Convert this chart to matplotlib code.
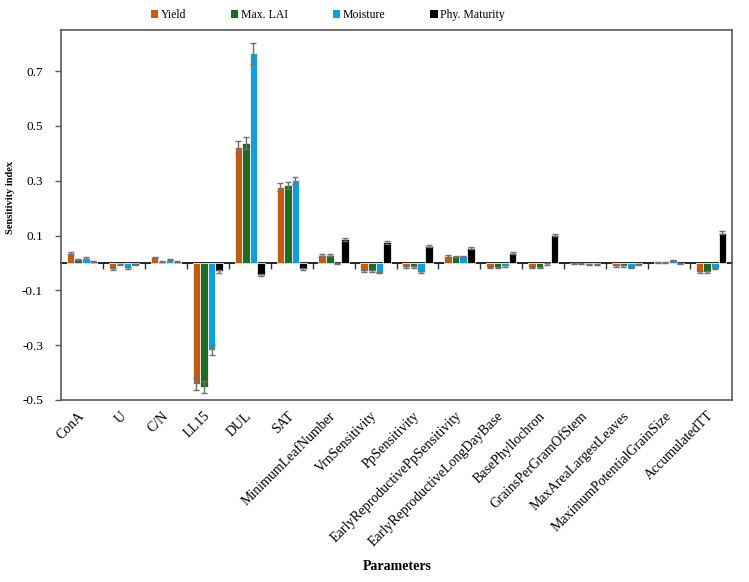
import numpy as np
import matplotlib
matplotlib.use("Agg")
import matplotlib.pyplot as plt
from matplotlib.patches import Patch

categories = ["ConA", "U", "C/N", "LL15", "DUL", "SAT", "MinimumLeafNumber",
              "VrnSensitivity", "PpSensitivity", "EarlyReproductivePpSensitivity",
              "EarlyReproductiveLongDayBase", "BasePhyllochron", "GrainsPerGramOfStem",
              "MaxAreaLargestLeaves", "MaximumPotentialGrainSize", "AccumulatedTT"]
series_names = ["Yield", "Max. LAI", "Moisture", "Phy. Maturity"]

yield_vals = [0.037, -0.021, 0.020, -0.440, 0.423, 0.276, 0.029, -0.029, -0.015, 0.026,
              -0.016, -0.016, -0.002, -0.010, 0.003, -0.032]
lai_vals = [0.013, -0.005, 0.005, -0.452, 0.437, 0.283, 0.029, -0.029, -0.015, 0.024,
            -0.016, -0.016, -0.002, -0.012, 0.003, -0.032]
moist_vals = [0.017, -0.018, 0.012, -0.318, 0.765, 0.301, -0.003, -0.035, -0.034, 0.024,
              -0.010, -0.004, -0.004, -0.017, 0.010, -0.020]
pm_vals = [0.006, -0.006, 0.004, -0.031, -0.044, -0.022, 0.086, 0.076, 0.061, 0.055,
           0.037, 0.102, -0.004, -0.006, -0.003, 0.111]

yield_err = [0.004, 0.003, 0.003, 0.022, 0.022, 0.014, 0.003, 0.003, 0.003, 0.003,
             0.003, 0.003, 0.002, 0.003, 0.002, 0.003]
lai_err = [0.003, 0.003, 0.003, 0.023, 0.023, 0.014, 0.003, 0.003, 0.003, 0.003,
           0.003, 0.003, 0.002, 0.003, 0.002, 0.003]
moist_err = [0.003, 0.003, 0.003, 0.018, 0.038, 0.013, 0.002, 0.003, 0.003, 0.003,
             0.003, 0.003, 0.002, 0.003, 0.002, 0.003]
pm_err = [0.002, 0.002, 0.002, 0.004, 0.004, 0.003, 0.005, 0.005, 0.003, 0.005,
          0.003, 0.005, 0.002, 0.002, 0.002, 0.005]

colors = ["#C55A11", "#1E6B24", "#109FDA", "#000000"]
yticks = [-0.5, -0.3, -0.1, 0.1, 0.3, 0.5, 0.7]

plt.rcParams['font.family'] = ['Liberation Serif', 'DejaVu Serif']

fig = plt.figure(figsize=(7.49, 5.82), dpi=100)
ax = fig.add_axes([61/749, 1 - 400/582, (732-61)/749, (400-30)/582])

x = np.arange(len(categories))
w = 0.18
all_vals = [yield_vals, lai_vals, moist_vals, pm_vals]
all_errs = [yield_err, lai_err, moist_err, pm_err]
for i, (vals, errs, c) in enumerate(zip(all_vals, all_errs, colors)):
    ax.bar(x + (i - 1.5) * w, vals, w, color=c, edgecolor="#f4f4f4", linewidth=0.6,
           yerr=errs, error_kw=dict(ecolor="#707070", elinewidth=1.0, capsize=2.5, capthick=1.0),
           zorder=2)

ax.set_xlim(-0.5, len(categories) - 0.5)
ax.set_ylim(-0.5, 0.85)
ax.set_yticks(yticks)
ax.set_yticklabels([f"{v:.1f}" for v in yticks])
ax.set_xticks(x)
ax.set_xticklabels(categories, rotation=45, ha="right", va="center",
                   rotation_mode="anchor", fontsize=10)
ax.tick_params(axis="x", length=0, pad=10)
ax.tick_params(axis="y", direction="out", length=4, width=1, color="#595959",
               labelsize=9.5, pad=9)

for s in ax.spines.values():
    s.set_color("#595959")
    s.set_linewidth(1.2)

# zero axis line with category-boundary ticks
frac0 = (0 - (-0.5)) / (0.85 - (-0.5))
sec = ax.secondary_xaxis(frac0)
sec.spines['bottom'].set_color("#000000")
sec.spines['bottom'].set_linewidth(1.2)
sec.set_xticks(np.arange(0.5, len(categories) - 1, 1.0))
sec.set_xticklabels([])
sec.tick_params(axis="x", direction="out", length=4, width=1, color="#333333")

ax.set_ylabel("Sensitivity index", fontweight="bold", fontsize=7.5)
ax.yaxis.set_label_coords(15/749, 1 - 197/582, transform=fig.transFigure)
ax.set_xlabel("Parameters", fontweight="bold", fontsize=10)
ax.xaxis.set_label_coords(397/749, 1 - 567/582, transform=fig.transFigure)
ax.xaxis.label.set_verticalalignment("center")
ax.yaxis.label.set_horizontalalignment("center")

handles = [Patch(facecolor=c, edgecolor="none") for c in colors]
fig.legend(handles, series_names, loc="center", bbox_to_anchor=(328/749, 1 - 15/582),
           ncol=4, frameon=False, fontsize=8.5, handlelength=0.6, handleheight=0.6,
           handletextpad=0.25, columnspacing=3.8)

fig.savefig("out.png", dpi=100)
